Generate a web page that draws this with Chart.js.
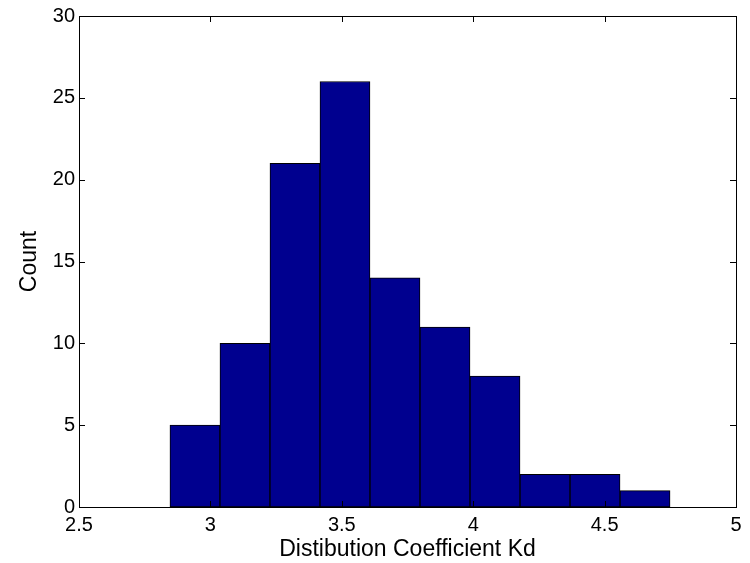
<!DOCTYPE html>
<html>
<head>
<meta charset="utf-8">
<script src="https://cdn.jsdelivr.net/npm/chart.js@4/dist/chart.umd.min.js"></script>
<style>
  html, body { margin: 0; padding: 0; background: #fff; }
  canvas { display: block; }
</style>
</head>
<body>
<canvas id="Hist" width="750" height="563"></canvas>
<script>
// histogram bins (centres) and counts
var binCenters = [2.9412, 3.1315, 3.3218, 3.5121, 3.7024, 3.8927, 4.0830, 4.2733, 4.4636, 4.6539];
var counts = [5, 10, 21, 26, 14, 11, 8, 2, 2, 1];
var xTicks = [2.5, 3, 3.5, 4, 4.5, 5];
var yTicks = [0, 5, 10, 15, 20, 25, 30];

// matlab style box with inward ticks on all four sides
var boxTicks = {
  id: 'boxTicks',
  afterDatasetsDraw: function(chart) {
    var c = chart.ctx, a = chart.chartArea;
    var xs = chart.scales.x, ys = chart.scales.y;
    var len = 6;
    c.save();
    c.strokeStyle = '#000';
    c.lineWidth = 1;
    c.beginPath();
    xTicks.forEach(function(v) {
      var px = Math.round(xs.getPixelForValue(v)) + 0.5;
      c.moveTo(px, a.bottom); c.lineTo(px, a.bottom - len);
      c.moveTo(px, a.top); c.lineTo(px, a.top + len);
    });
    yTicks.forEach(function(v) {
      var py = Math.round(ys.getPixelForValue(v)) + 0.5;
      c.moveTo(a.left, py); c.lineTo(a.left + len, py);
      c.moveTo(a.right, py); c.lineTo(a.right - len, py);
    });
    c.stroke();
    c.strokeRect(Math.round(a.left) + 0.5, Math.round(a.top) + 0.5,
                 Math.round(a.right - a.left), Math.round(a.bottom - a.top));
    c.restore();
  }
};

var ctx = document.getElementById("Hist");
var myChart = new Chart(ctx, {
    type: 'bar',
    data: {
        datasets: [{
            label: 'Count',
            data: binCenters.map(function(x, i) { return {x: x, y: counts[i]}; }),
            backgroundColor: '#00008f',
            borderColor: '#000',
            borderWidth: 1,
            borderSkipped: false,
            barPercentage: 1,
            categoryPercentage: 1
        }]},
    options: {
        responsive: false,
        animation: false,
        layout: {padding: {top: 15, right: 14, left: 0, bottom: 0}},
        plugins: {legend: {display: false}, tooltip: {enabled: false}},
        scales: {
            x: {
                type: 'linear',
                offset: false,
                min: 2.5, max: 5,
                afterBuildTicks: function(s) { s.ticks = xTicks.map(function(v) { return {value: v}; }); },
                afterFit: function(s) { s.height = 56; },
                grid: {display: false, drawTicks: false, offset: false},
                border: {display: false},
                ticks: {color: '#000', padding: 6, font: {family: 'Liberation Sans', size: 20}, maxRotation: 0,
                        callback: function(v) { return String(v); }},
                title: {display: true, text: 'Distibution Coefficient Kd', color: '#000',
                        font: {family: 'Liberation Sans', size: 23}, padding: {top: 0, bottom: 0}}
            },
            y: {
                min: 0, max: 30,
                afterBuildTicks: function(s) { s.ticks = yTicks.map(function(v) { return {value: v}; }); },
                afterFit: function(s) { s.width = 79; },
                grid: {display: false, drawTicks: false},
                border: {display: false},
                ticks: {color: '#000', padding: 4, font: {family: 'Liberation Sans', size: 20}},
                title: {display: true, text: 'Count', color: '#000',
                        font: {family: 'Liberation Sans', size: 23}, padding: {top: 16, bottom: 0}}
            }
        }
    },
    plugins: [boxTicks]
});
</script>
</body>
</html>
